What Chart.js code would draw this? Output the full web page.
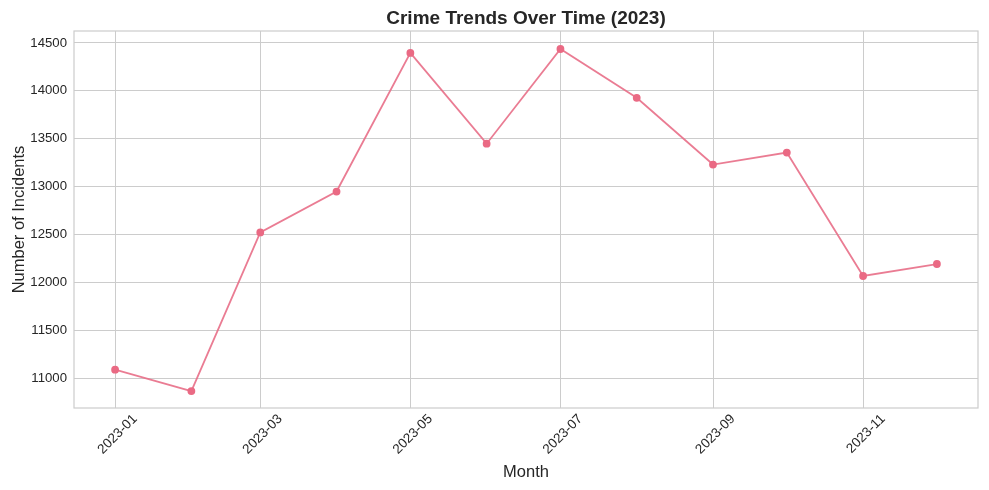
<!DOCTYPE html>
<html>
<head>
<meta charset="utf-8">
<script src="https://cdn.jsdelivr.net/npm/chart.js@4.4.0/dist/chart.umd.min.js"></script>
<style>
  html, body { margin: 0; padding: 0; background: #fff; }
  #wrap { width: 989px; height: 490px; }
</style>
</head>
<body>
<div id="wrap"><canvas id="graph" width="989" height="490"></canvas></div>
<script>
const months = ['2023-01', '2023-02', '2023-03', '2023-04', '2023-05', '2023-06',
                '2023-07', '2023-08', '2023-09', '2023-10', '2023-11', '2023-12'];
const incidents = [11087, 10864, 12521, 12948, 14396, 13448, 14437, 13927, 13230, 13355, 12066, 12191];
const tickMonths = ['2023-01', '2023-03', '2023-05', '2023-07', '2023-09', '2023-11'];
const yTicks = [11000, 11500, 12000, 12500, 13000, 13500, 14000, 14500];
const chartTitle = 'Crime Trends Over Time (2023)';

// days since Jan 1 so month spacing follows the calendar
const dayOf = (m) => (Date.parse(m + '-01T00:00:00Z') - Date.parse('2023-01-01T00:00:00Z')) / 86400000;
const points = months.map((m, i) => ({ x: dayOf(m), y: incidents[i] }));
const span = dayOf(months[months.length - 1]) - dayOf(months[0]);

const gridColor = '#cccccc';
const textColor = '#262626';
const font = 'Liberation Sans, Arial, sans-serif';

// light frame round the plot + title centred over the plot area
const frame = {
  id: 'frame',
  afterDatasetsDraw(chart) {
    const a = chart.chartArea, ctx = chart.ctx;
    ctx.save();
    ctx.strokeStyle = gridColor;
    ctx.lineWidth = 1.2;
    ctx.strokeRect(a.left, a.top, a.right - a.left, a.bottom - a.top);
    ctx.fillStyle = textColor;
    ctx.font = 'bold 19px ' + font;
    ctx.textAlign = 'center';
    ctx.textBaseline = 'middle';
    ctx.fillText(chartTitle, (a.left + a.right) / 2, 18.5);
    ctx.restore();
  }
};

new Chart(document.getElementById('graph'), {
  type: 'line',
  data: {
    datasets: [{
      label: 'Incidents',
      data: points,
      borderColor: 'rgba(232, 110, 135, 0.9)',
      backgroundColor: '#ea6a84',
      pointBorderColor: '#ea6a84',
      borderWidth: 1.8,
      pointRadius: 3,
      pointHoverRadius: 3,
      tension: 0
    }]
  },
  options: {
    responsive: false,
    animation: false,
    layout: { padding: { left: 0, right: 11, top: 31, bottom: 0 } },
    plugins: {
      legend: { display: false },
      tooltip: { enabled: false },
      title: { display: false }
    },
    scales: {
      x: {
        type: 'linear',
        min: -span * 0.05,
        max: span * 1.05,
        afterBuildTicks(scale) {
          scale.ticks = tickMonths.map(m => ({ value: dayOf(m) }));
        },
        afterFit(scale) { scale.height = 82; },
        ticks: {
          callback: (v) => months.find(m => dayOf(m) === v) || '',
          color: textColor,
          font: { family: font, size: 13.5 },
          minRotation: 45,
          maxRotation: 45,
          labelOffset: 20,
          padding: 3,
          autoSkip: false
        },
        grid: { color: gridColor, lineWidth: 1, drawTicks: false },
        border: { display: false },
        title: {
          display: true,
          text: 'Month',
          color: textColor,
          font: { family: font, size: 16.5 },
          padding: { top: 0, bottom: 8 }
        }
      },
      y: {
        min: 10687,
        max: 14625,
        afterBuildTicks(scale) {
          scale.ticks = yTicks.map(v => ({ value: v }));
        },
        afterFit(scale) { scale.width = 74; },
        ticks: {
          color: textColor,
          font: { family: font, size: 13.2 },
          padding: 7,
          callback: (v) => String(v)
        },
        grid: { color: gridColor, lineWidth: 1, drawTicks: false },
        border: { display: false },
        title: {
          display: true,
          text: 'Number of Incidents',
          color: textColor,
          font: { family: font, size: 16.5 },
          padding: { top: 10, bottom: 4 }
        }
      }
    }
  },
  plugins: [frame]
});
</script>
</body>
</html>
